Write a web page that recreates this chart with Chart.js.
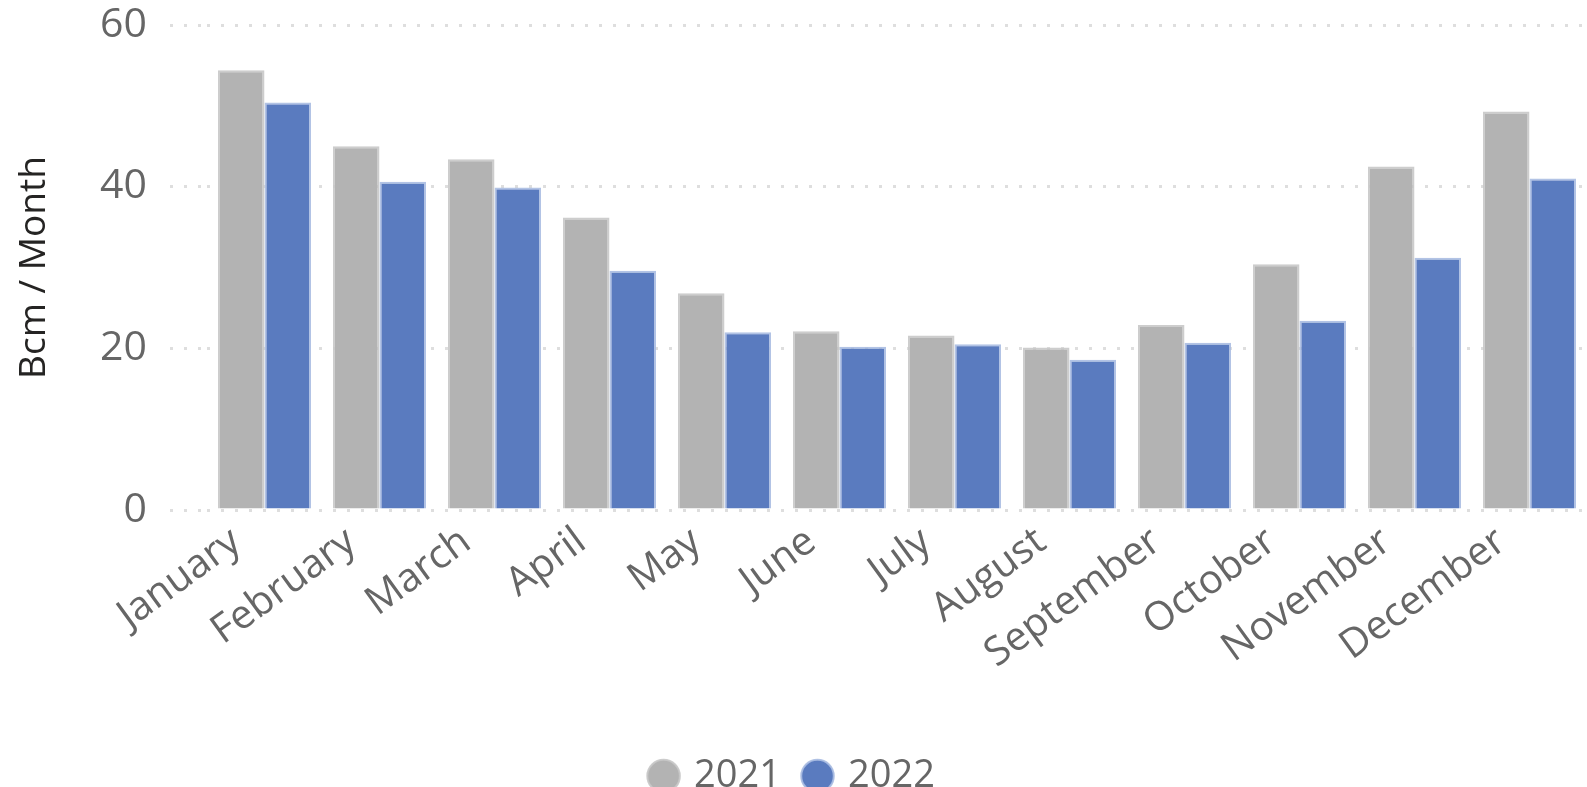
<!DOCTYPE html>
<html>
<head>
<meta charset="utf-8">
<script src="https://cdn.jsdelivr.net/npm/chart.js@4"></script>
<style>
  html, body { margin: 0; padding: 0; background: #fff; }
  #wrap { width: 1587px; height: 787px; }
</style>
</head>
<body>
<div id="wrap"><canvas id="chart"></canvas></div>
<script>
const months = ['January', 'February', 'March', 'April', 'May', 'June',
    'July', 'August', 'September', 'October', 'November', 'December'];
const values2021 = [54.4, 45.0, 43.4, 36.2, 26.8, 22.1, 21.6, 20.1, 22.9, 30.4, 42.5, 49.3];
const values2022 = [50.4, 40.6, 39.9, 29.6, 22.0, 20.2, 20.5, 18.6, 20.7, 23.4, 31.2, 41.0];
const yTicks = [0, 20, 40, 60];

const font = 'Open Sans';
const tickGray = '#666666';
const gridGray = '#dedede';
const dots = [3, 11];

const ctx = document.getElementById('chart').getContext('2d');
new Chart(ctx, {
    type: 'bar',
    data: {
        labels: months,
        datasets: [{
            label: '2021',
            data: values2021,
            backgroundColor: '#b3b3b3',
            borderColor: 'rgba(200, 200, 200, 0.9)',
            borderWidth: 2,
            categoryPercentage: 0.81,
            barPercentage: 1.0,
        }, {
            label: '2022',
            data: values2022,
            backgroundColor: '#5a7bbf',
            borderColor: 'rgba(170, 188, 226, 0.9)',
            borderWidth: 2,
            categoryPercentage: 0.81,
            barPercentage: 1.0,
        }]
    },
    options: {
        responsive: true,
        maintainAspectRatio: false,
        animation: false,
        layout: { padding: { top: 0, right: 0, left: 0, bottom: -18 } },
        plugins: {
            tooltip: { enabled: false },
            legend: {
                position: 'bottom',
                labels: {
                    usePointStyle: true,
                    pointStyle: 'circle',
                    boxWidth: 23,
                    boxHeight: 23,
                    padding: 25,
                    color: tickGray,
                    font: { family: font, size: 38 }
                }
            }
        },
        scales: {
            x: {
                grid: { display: false },
                border: { display: false },
                ticks: {
                    color: tickGray,
                    minRotation: 36,
                    maxRotation: 36,
                    padding: 0,
                    labelOffset: -28,
                    font: { family: font, size: 40 }
                },
                afterFit(scale) { scale.height = 222; }
            },
            y: {
                min: 0,
                max: 60,
                afterBuildTicks(scale) {
                    scale.ticks = yTicks.map(v => ({ value: v }));
                },
                border: { display: false, dash: dots },
                grid: {
                    color: gridGray,
                    lineWidth: 3,
                    tickLength: 37,
                    tickColor: gridGray,
                    tickWidth: 3,
                    tickBorderDash: dots,
                },
                ticks: {
                    color: tickGray,
                    padding: 23,
                    font: { family: font, size: 41 }
                },
                title: {
                    display: true,
                    text: 'Bcm / Month',
                    color: '#252423',
                    padding: { top: 12, bottom: 0 },
                    font: { family: font, size: 37 }
                },
                afterFit(scale) {
                    scale.width = 207;
                    scale.paddingTop = 25;
                    scale.paddingBottom = 25;
                }
            }
        }
    }
});
</script>
</body>
</html>
